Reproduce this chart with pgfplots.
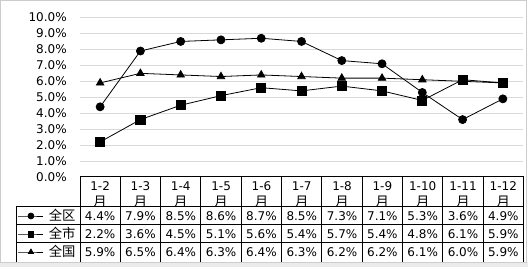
\documentclass[border=0pt]{standalone}
\usepackage{pgfplots}
\pgfplotsset{compat=1.18}
\usepackage{fontspec}
\setmainfont{DejaVu Sans}
\newfontfamily\cjk{Noto Sans CJK SC}
\begin{document}
\begin{tikzpicture}
\begin{scope}[x=0.75pt,y=0.75pt]
\useasboundingbox (0,0) rectangle (528,267);
\fill[black!8] (0,0) rectangle (528,4.5);
\draw[black!20, line width=0.75pt] (0.5,4.5) rectangle (526.5,266.5);
\end{scope}
\begin{axis}[
  at={(60pt,67.5pt)}, anchor=south west,
  width=332.25pt, height=119.6pt, scale only axis,
  xmin=-0.5, xmax=10.5, ymin=0, ymax=10,
  xtick=\empty, ytick={0,1,...,10},
  /pgf/number format/assume math mode=true,
  yticklabel={\pgfmathprintnumber[fixed,fixed zerofill,precision=1]{\tick}\%},
  yticklabel style={font=\fontsize{9}{10}\selectfont, inner sep=0pt, xshift=-9.75pt},
  ymajorgrids, grid style={draw=black!15, line width=0.75pt},
  axis line style={draw=none}, tick style={draw=none},
  legend style={at={(-0.13995,-0.18809)}, anchor=north west, draw=none, fill=none,
    inner sep=0pt, outer sep=0pt, row sep=0pt,
    nodes={inner sep=0pt, text height=10.1pt, text depth=3.4pt, font=\cjk\fontsize{10}{12}\selectfont}},
  legend cell align=left,
  legend image code/.code={\draw[mark repeat=2,mark phase=2,#1] plot coordinates {(0pt,0pt) (9.4pt,0pt) (18.75pt,0pt)}; \path (22.5pt,0pt);},
  legend image post style={mark size=2.2pt},
  every axis plot/.append style={black, line width=0.6pt},
]
\addplot[mark=*, mark size=3pt] coordinates {(0,4.4)(1,7.9)(2,8.5)(3,8.6)(4,8.7)(5,8.5)(6,7.3)(7,7.1)(8,5.3)(9,3.6)(10,4.9)};
\addplot[mark=square*, mark size=3.4pt] coordinates {(0,2.2)(1,3.6)(2,4.5)(3,5.1)(4,5.6)(5,5.4)(6,5.7)(7,5.4)(8,4.8)(9,6.1)(10,5.9)};
\addplot[mark=triangle*, mark size=3.2pt] coordinates {(0,5.9)(1,6.5)(2,6.4)(3,6.3)(4,6.4)(5,6.3)(6,6.2)(7,6.2)(8,6.1)(9,6.0)(10,5.9)};
\legend{全区,全市,全国}
\end{axis}
\begin{scope}[x=0.75pt,y=0.75pt, font=\fontsize{9}{10}\selectfont, line width=0.75pt]
\draw (80,90) -- (523.5,90);
\foreach \i in {0,...,11} \draw ({80+\i*40.3182},90) -- ({80+\i*40.3182},5);
\draw (16,60) -- (16,5);
\foreach \y in {60,42,24} \draw (16,\y) -- (523.5,\y);
\foreach \m [count=\i from 0] in {2,...,12} {
  \node at ({80+(\i+0.5)*40.3182},80.5) {1-\m};
  \node[font=\cjk\fontsize{10}{12}\selectfont] at ({80+(\i+0.5)*40.3182},65) {月};
}
\foreach \v [count=\i from 0] in {4.4,7.9,8.5,8.6,8.7,8.5,7.3,7.1,5.3,3.6,4.9}
  \node at ({80+(\i+0.5)*40.3182},51) {\v\%};
\foreach \v [count=\i from 0] in {2.2,3.6,4.5,5.1,5.6,5.4,5.7,5.4,4.8,6.1,5.9}
  \node at ({80+(\i+0.5)*40.3182},33) {\v\%};
\foreach \v [count=\i from 0] in {5.9,6.5,6.4,6.3,6.4,6.3,6.2,6.2,6.1,6.0,5.9}
  \node at ({80+(\i+0.5)*40.3182},15) {\v\%};
\end{scope}
\end{tikzpicture}
\end{document}
